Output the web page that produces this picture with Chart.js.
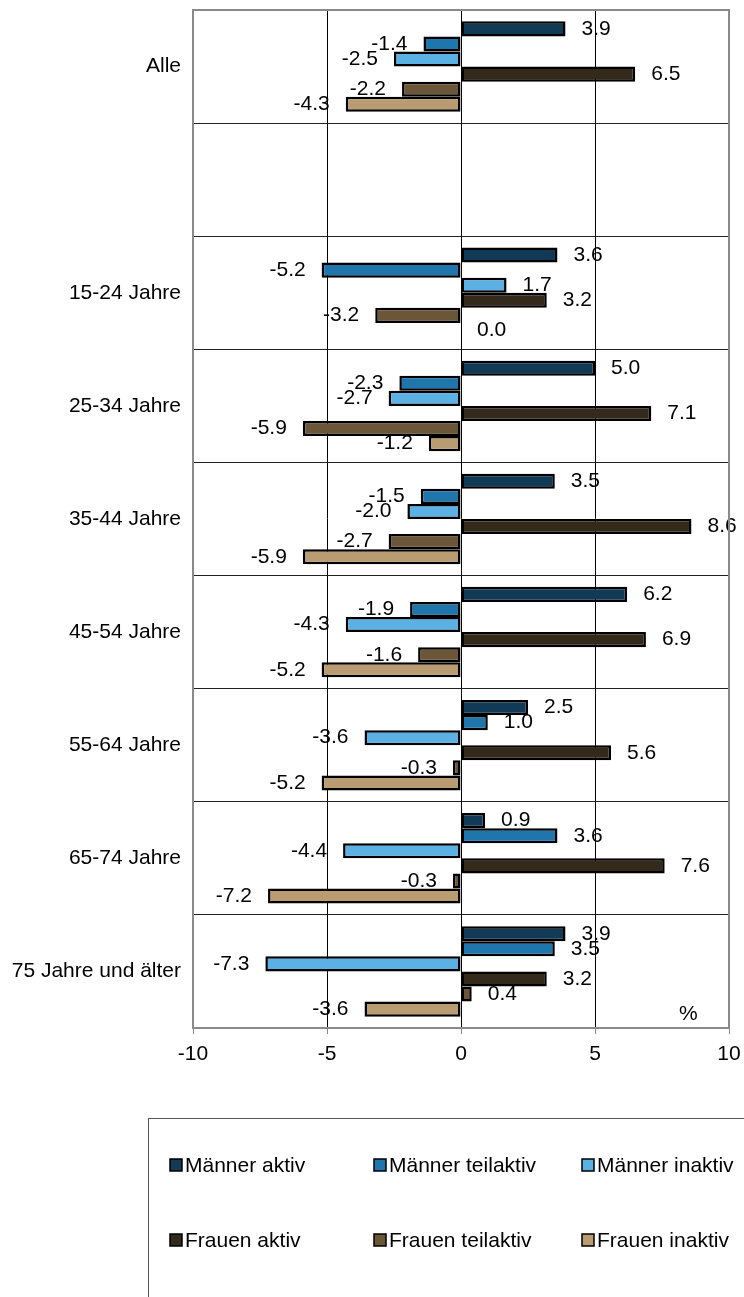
<!DOCTYPE html>
<html>
<head>
<meta charset="utf-8">
<script src="https://cdn.jsdelivr.net/npm/chart.js@4/dist/chart.umd.min.js"></script>
<style>
  body { margin: 0; background: #fff; }
  #wrap { width: 744px; height: 1297px; position: relative; }
</style>
</head>
<body>
<div id="wrap"><canvas id="chart"></canvas></div>
<script>
// categories (empty row after "Alle" is kept as in the original)
const categories = ['Alle', '', '15-24 Jahre', '25-34 Jahre', '35-44 Jahre', '45-54 Jahre', '55-64 Jahre', '65-74 Jahre', '75 Jahre und älter'];

const maennerAktiv     = [3.9, null, 3.6, 5.0, 3.5, 6.2, 2.5, 0.9, 3.9];
const maennerTeilaktiv = [-1.4, null, -5.2, -2.3, -1.5, -1.9, 1.0, 3.6, 3.5];
const maennerInaktiv   = [-2.5, null, 1.7, -2.7, -2.0, -4.3, -3.6, -4.4, -7.3];
const frauenAktiv      = [6.5, null, 3.2, 7.1, 8.6, 6.9, 5.6, 7.6, 3.2];
const frauenTeilaktiv  = [-2.2, null, -3.2, -5.9, -2.7, -1.6, -0.3, -0.3, 0.4];
const frauenInaktiv    = [-4.3, null, 0.0, -1.2, -5.9, -5.2, -5.2, -7.2, -3.6];

const seriesNames = ['Männer aktiv', 'Männer teilaktiv', 'Männer inaktiv', 'Frauen aktiv', 'Frauen teilaktiv', 'Frauen inaktiv'];
const seriesColors = ['#113A56', '#1F76AD', '#5BB1E4', '#342A1C', '#6C5638', '#B99C71'];
const xTicks = [-10, -5, 0, 5, 10];

const FONT = '"Liberation Sans", Arial, sans-serif';
const FSIZE = 21;

const allSeries = [maennerAktiv, maennerTeilaktiv, maennerInaktiv, frauenAktiv, frauenTeilaktiv, frauenInaktiv];

// value labels next to bar ends
const valueLabels = {
  id: 'valueLabels',
  afterDatasetsDraw(chart) {
    const ctx = chart.ctx;
    ctx.save();
    ctx.font = FSIZE + 'px ' + FONT;
    ctx.fillStyle = '#000';
    ctx.textBaseline = 'middle';
    chart.data.datasets.forEach((ds, i) => {
      const meta = chart.getDatasetMeta(i);
      meta.data.forEach((bar, j) => {
        const v = ds.data[j];
        if (v === null || v === undefined) return;
        if (v >= 0) {
          ctx.textAlign = 'left';
          ctx.fillText(v.toFixed(1), bar.x + 16, bar.y);
        } else {
          ctx.textAlign = 'right';
          ctx.fillText(v.toFixed(1), bar.x - 16, bar.y);
        }
      });
    });
    ctx.restore();
  }
};

// plot frame, % sign and legend box
const frameAndLegend = {
  id: 'frameAndLegend',
  afterDraw(chart) {
    const ctx = chart.ctx;
    const a = chart.chartArea;
    ctx.save();
    ctx.strokeStyle = '#8a8a8a';
    ctx.lineWidth = 2;
    ctx.strokeRect(a.left, a.top, a.right - a.left, a.bottom - a.top);

    ctx.font = FSIZE + 'px ' + FONT;
    ctx.fillStyle = '#000';
    ctx.textAlign = 'left';
    ctx.textBaseline = 'middle';
    ctx.fillText('%', a.right - 50, a.bottom - 14);

    // legend
    ctx.strokeStyle = '#555';
    ctx.lineWidth = 1;
    ctx.strokeRect(148.5, 1118.5, 700, 300);
    const colX = [170, 374, 582];
    const rowY = [1165, 1240];
    chart.data.datasets.forEach((ds, i) => {
      const x = colX[i % 3];
      const y = rowY[Math.floor(i / 3)];
      ctx.fillStyle = ds.backgroundColor;
      ctx.fillRect(x, y - 6, 12, 12);
      ctx.strokeStyle = '#000';
      ctx.lineWidth = 1.5;
      ctx.strokeRect(x, y - 6, 12, 12);
      ctx.fillStyle = '#000';
      ctx.fillText(ds.label, x + 15, y + 1);
    });
    ctx.restore();
  }
};

new Chart(document.getElementById('chart'), {
  type: 'bar',
  data: {
    labels: categories,
    datasets: allSeries.map((d, i) => ({
      label: seriesNames[i],
      data: d,
      backgroundColor: seriesColors[i],
      borderColor: '#000',
      borderWidth: 2.5,
      borderSkipped: false,
      barPercentage: 1.0,
      categoryPercentage: 0.8
    }))
  },
  options: {
    indexAxis: 'y',
    responsive: true,
    maintainAspectRatio: false,
    animation: false,
    layout: { padding: { top: 10, right: 15, bottom: 223, left: 0 } },
    plugins: {
      legend: { display: false },
      tooltip: { enabled: false }
    },
    scales: {
      x: {
        min: -10,
        max: 10,
        afterBuildTicks: (scale) => { scale.ticks = xTicks.map(v => ({ value: v })); },
        afterFit: (scale) => {
          scale.height = 46;
          scale.paddingLeft = 0;
          scale.paddingRight = 0;
        },
        grid: {
          color: (c) => (Math.abs(c.tick.value) === 10 ? 'rgba(0,0,0,0)' : '#000'),
          lineWidth: 1,
          tickColor: '#8a8a8a',
          tickLength: 6
        },
        border: { color: '#8a8a8a', width: 2 },
        ticks: {
          color: '#000',
          padding: 8,
          font: { family: FONT, size: FSIZE }
        }
      },
      y: {
        afterFit: (scale) => {
          scale.width = 193;
          scale.paddingTop = 0;
          scale.paddingBottom = 0;
        },
        grid: {
          color: '#222',
          lineWidth: 1,
          drawTicks: false,
          offset: true
        },
        border: { color: '#8a8a8a', width: 2 },
        ticks: {
          color: '#000',
          padding: 12,
          font: { family: FONT, size: FSIZE }
        }
      }
    }
  },
  plugins: [valueLabels, frameAndLegend]
});
</script>
</body>
</html>
